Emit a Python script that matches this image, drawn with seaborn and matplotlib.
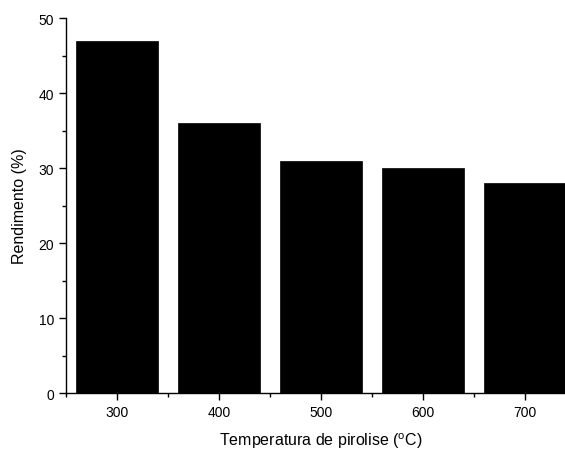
import matplotlib
matplotlib.use("Agg")
import matplotlib.pyplot as plt
from matplotlib.ticker import MultipleLocator
import seaborn as sns
import pandas as pd

temperatures = ["300", "400", "500", "600", "700"]
yields = [47, 36, 31, 30, 28]

df = pd.DataFrame({"Temperatura": temperatures, "Rendimento": yields})

sns.set_style("ticks")
plt.rcParams["font.family"] = ["Liberation Sans", "DejaVu Sans"]
plt.rcParams["mathtext.fontset"] = "custom"
plt.rcParams["mathtext.rm"] = "Liberation Sans"
plt.rcParams["text.color"] = "black"
plt.rcParams["axes.labelcolor"] = "black"

fig = plt.figure(figsize=(5.65, 4.52), dpi=100)
ax = fig.add_axes([0.1168, 0.1283, 0.9027, 0.8296])

sns.barplot(data=df, x="Temperatura", y="Rendimento", color="black",
            saturation=1, width=0.8, edgecolor="black", linewidth=0.5, ax=ax)

ax.set_xlim(-0.5, 4.5)
ax.set_ylim(0, 50)
ax.yaxis.set_major_locator(MultipleLocator(10))
ax.yaxis.set_minor_locator(MultipleLocator(5))
ax.xaxis.set_minor_locator(MultipleLocator(1, offset=0.5))

sns.despine(ax=ax)
for s in ["left", "bottom"]:
    ax.spines[s].set_linewidth(1.0)
    ax.spines[s].set_color("black")

ax.tick_params(which="major", direction="out", length=5, width=1, labelsize=10,
               colors="black", labelcolor="black")
ax.tick_params(which="minor", direction="out", length=3, width=1, colors="black")

ax.set_xlabel(r"Temperatura de pirolise ($^{\mathrm{o}}$C)", fontsize=11.5, labelpad=8)
ax.set_ylabel("Rendimento (%)", fontsize=11.5, labelpad=8)

fig.savefig("out.png", dpi=100)
